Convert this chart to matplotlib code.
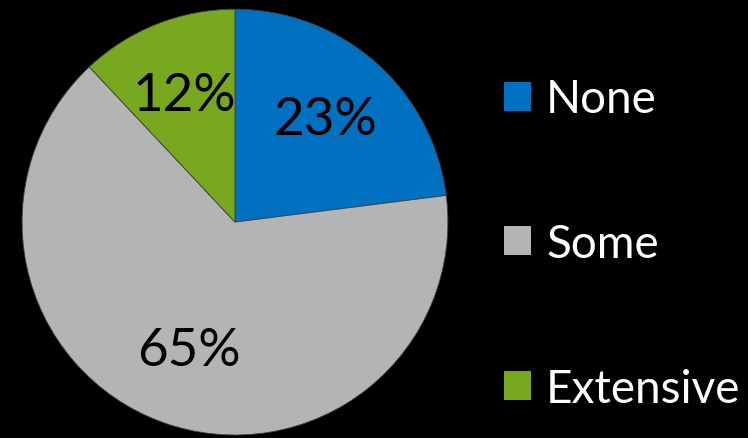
import matplotlib.pyplot as plt
from matplotlib.patches import Patch

labels = ["None", "Some", "Extensive"]
shares = [23, 65, 12]
colors = ["#0070C0", "#B4B4B4", "#77A81F"]

plt.rcParams['font.family'] = ['Lato', 'DejaVu Sans']

fig = plt.figure(figsize=(7.48, 4.39), dpi=100, facecolor="black")
ax = fig.add_axes([0.0294, 0.0068, 0.5695, 0.970])
ax.set_facecolor("black")

wedges, texts, autotexts = ax.pie(
    shares, colors=colors, startangle=90, counterclock=False,
    autopct="%d%%", pctdistance=0.64, radius=1.0,
    wedgeprops=dict(linewidth=0.6, edgecolor="#404040"),
    textprops=dict(color="black", fontsize=38))
ax.set_xlim(-1, 1)
ax.set_ylim(-1, 1)
ax.set_aspect("equal")

handles = [Patch(facecolor=c, edgecolor="none") for c in colors]
fig.legend(handles, labels, loc="center left", bbox_to_anchor=(0.618, 0.442),
           frameon=False, fontsize=33, labelcolor="white",
           handlelength=0.6, handleheight=0.6, handletextpad=0.33,
           labelspacing=2.24)

fig.savefig("out.png", dpi=100, facecolor="black")
